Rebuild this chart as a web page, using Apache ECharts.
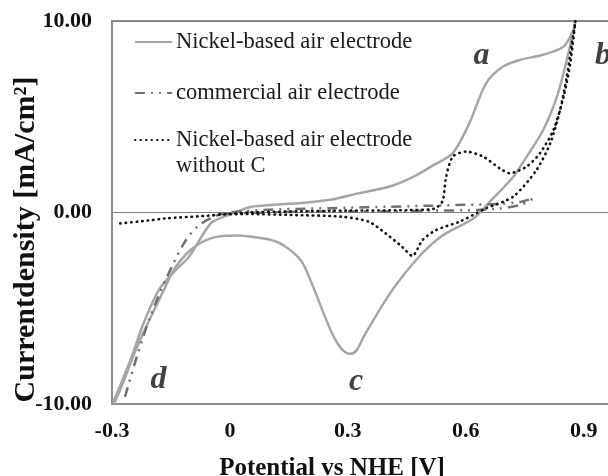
<!DOCTYPE html>
<html><head><meta charset="utf-8">
<script src="https://cdn.jsdelivr.net/npm/echarts@6/dist/echarts.min.js"></script>
<style>html,body{margin:0;padding:0;background:#fff}#c{width:608px;height:476px}</style>
</head><body><div id="c"></div>
<script>
const nickelX = [-0.297,-0.284,-0.250,-0.220,-0.181,-0.140,-0.104,-0.049,-0.015,0.020,0.054,0.120,0.182,0.250,0.327,0.413,0.470,0.520,0.567,0.609,0.652,0.695,0.738,0.797,0.849,0.874,0.879,
  0.857,0.832,0.797,0.755,0.721,0.665,0.620,0.541,0.481,0.413,0.370,0.340,0.322,0.306,0.285,0.262,0.242,0.208,0.182,0.139,0.097,0.011,-0.049,-0.100,-0.143,-0.168,-0.200,-0.240,-0.270,-0.295];
const nickelY = [-9.90,-9.28,-7.54,-5.80,-4.05,-3.05,-2.31,-0.57,-0.22,0.05,0.30,0.42,0.50,0.65,1.00,1.40,1.90,2.50,3.10,4.66,6.76,7.62,7.97,8.24,8.67,9.54,10.00,
  7.97,6.05,4.31,2.92,1.87,0.65,-0.30,-1.20,-2.31,-4.05,-5.45,-6.50,-7.20,-7.38,-7.15,-6.40,-5.45,-3.70,-2.55,-1.75,-1.40,-1.20,-1.35,-1.96,-3.00,-4.05,-5.40,-7.20,-8.80,-10.00];

const commercialX = [-0.267,-0.237,-0.203,-0.160,-0.117,-0.083,-0.040,0.000,0.100,0.200,0.300,0.400,0.500,0.600,0.680,0.738,0.772,
  0.740,0.680,0.600,0.500,0.400,0.300,0.200,0.100,0.000,-0.050];
const commercialY = [-9.63,-7.54,-5.45,-3.36,-1.61,-0.74,-0.20,0.00,0.15,0.20,0.25,0.30,0.35,0.40,0.45,0.55,0.74,
  0.40,0.20,0.12,0.10,0.05,0.05,0.05,0.00,-0.05,-0.15];

const noCarbonX = [-0.279,-0.200,-0.160,-0.080,-0.032,0.050,0.150,0.300,0.450,0.520,0.541,0.550,0.567,0.601,0.644,0.686,0.712,0.755,0.789,0.823,0.849,0.866,0.879,
  0.870,0.857,0.840,0.815,0.780,0.721,0.652,0.584,0.524,0.490,0.464,0.438,0.396,0.353,0.285,0.156,0.050,-0.030];
const noCarbonY = [-0.57,-0.40,-0.30,-0.20,-0.13,0.00,0.05,0.10,0.12,0.20,0.60,1.87,2.92,3.18,2.92,2.31,2.05,2.40,3.10,4.31,6.05,7.80,10.00,
  8.85,7.10,5.36,3.62,2.22,0.83,0.22,-0.48,-0.92,-1.44,-2.27,-1.79,-1.09,-0.48,-0.22,-0.13,-0.08,-0.10];

const seriesNames = ['Nickel-based air electrode','commercial air electrode','Nickel-based air electrode without C'];
const xTicks = [-0.3, 0, 0.3, 0.6, 0.9];
const yTicks = [-10, 0, 10];
const annoText = ['a','b','c','d'];
const annoX = [0.640, 0.949, 0.321, -0.182];
const annoY = [8.18, 8.20, -8.86, -8.75];

const zip = (xs, ys) => xs.map((x, i) => [x, ys[i]]);
const FONT = 'Liberation Serif';

const chart = echarts.init(document.getElementById('c'), null, {renderer:'canvas'});
const legendBase = {
  orient:'vertical', left:134, itemWidth:37, itemHeight:14, itemGap:0, padding:0,
  textStyle:{fontFamily:FONT, fontSize:22.5, color:'#1a1a1a', lineHeight:26, padding:[0,0,0,-1]},
  itemStyle:{color:'rgba(0,0,0,0)', borderColor:'rgba(0,0,0,0)', borderWidth:0, opacity:0},
  selectedMode:false
};
chart.setOption({
  animation:false,
  backgroundColor:'#fff',
  grid:{left:112, right:-4, top:21, bottom:72, show:true, borderColor:'#8c8c8c', borderWidth:2,
    containLabel:false, outerBoundsMode:'none'},
  legend:[
    Object.assign({}, legendBase, {top:29, data:[seriesNames[0]]}),
    Object.assign({}, legendBase, {top:80, data:[seriesNames[1]]}),
    Object.assign({}, legendBase, {top:101, data:[seriesNames[2]],
      formatter:() => '\nNickel-based air electrode\nwithout C'})
  ],
  xAxis:{type:'value', min:xTicks[0], max:0.972, interval:0.3,
    axisLine:{onZero:false, lineStyle:{color:'#8c8c8c', width:2}},
    axisTick:{show:false}, splitLine:{show:false},
    axisLabel:{showMaxLabel:false, margin:16, color:'#111', fontFamily:FONT, fontWeight:'bold', fontSize:22,
      formatter:v => { const t = xTicks.find(k => Math.abs(k - v) < 1e-6); return t === undefined ? '' : (t === 0 ? '0' : t.toFixed(1)); }},
    name:'Potential vs NHE [V]', nameLocation:'middle', nameGap:52,
    nameTextStyle:{fontFamily:FONT, fontWeight:'bold', fontSize:25, color:'#111', padding:[0,60,0,0]}
  },
  yAxis:{type:'value', min:yTicks[0], max:yTicks[2], interval:10,
    axisLine:{show:true, onZero:false, lineStyle:{color:'#8c8c8c', width:2}},
    axisTick:{show:false},
    splitLine:{show:true, lineStyle:{color:'#808080', width:1}},
    axisLabel:{margin:20, color:'#111', fontFamily:FONT, fontWeight:'bold', fontSize:22, formatter:v => v.toFixed(2)},
    name:'Currentdensity [mA/cm²]', nameLocation:'middle', nameGap:71, nameMoveOverlap:false,
    nameTextStyle:{fontFamily:FONT, fontWeight:'bold', fontSize:30, color:'#111', padding:[0,54,0,0]}
  },
  series:[
    {name:seriesNames[0], type:'line', data:zip(nickelX, nickelY), symbol:'none', smooth:0.3,
      lineStyle:{color:'#a6a6a6', width:2.5}, itemStyle:{color:'#a6a6a6'}, z:2},
    {name:seriesNames[1], type:'line', data:zip(commercialX, commercialY), symbol:'none', smooth:0.3,
      lineStyle:{color:'#707070', width:2.5, type:[10,6,2,6,2,6]}, itemStyle:{color:'#707070'}, z:3},
    {name:seriesNames[2], type:'line', data:zip(noCarbonX, noCarbonY), symbol:'none', smooth:0.25,
      lineStyle:{color:'#111', width:2.6, type:[0.5,5], cap:'round'}, itemStyle:{color:'#111'}, z:4},
    {name:'labels', type:'scatter', symbolSize:0, silent:true,
      data:annoText.map((t,i) => ({value:[annoX[i], annoY[i]], name:t})),
      label:{show:true, position:'inside', formatter:p => p.name, color:'#111',
        fontFamily:FONT, fontWeight:'bold', fontStyle:'italic', fontSize:32}}
  ]
});
</script></body></html>
